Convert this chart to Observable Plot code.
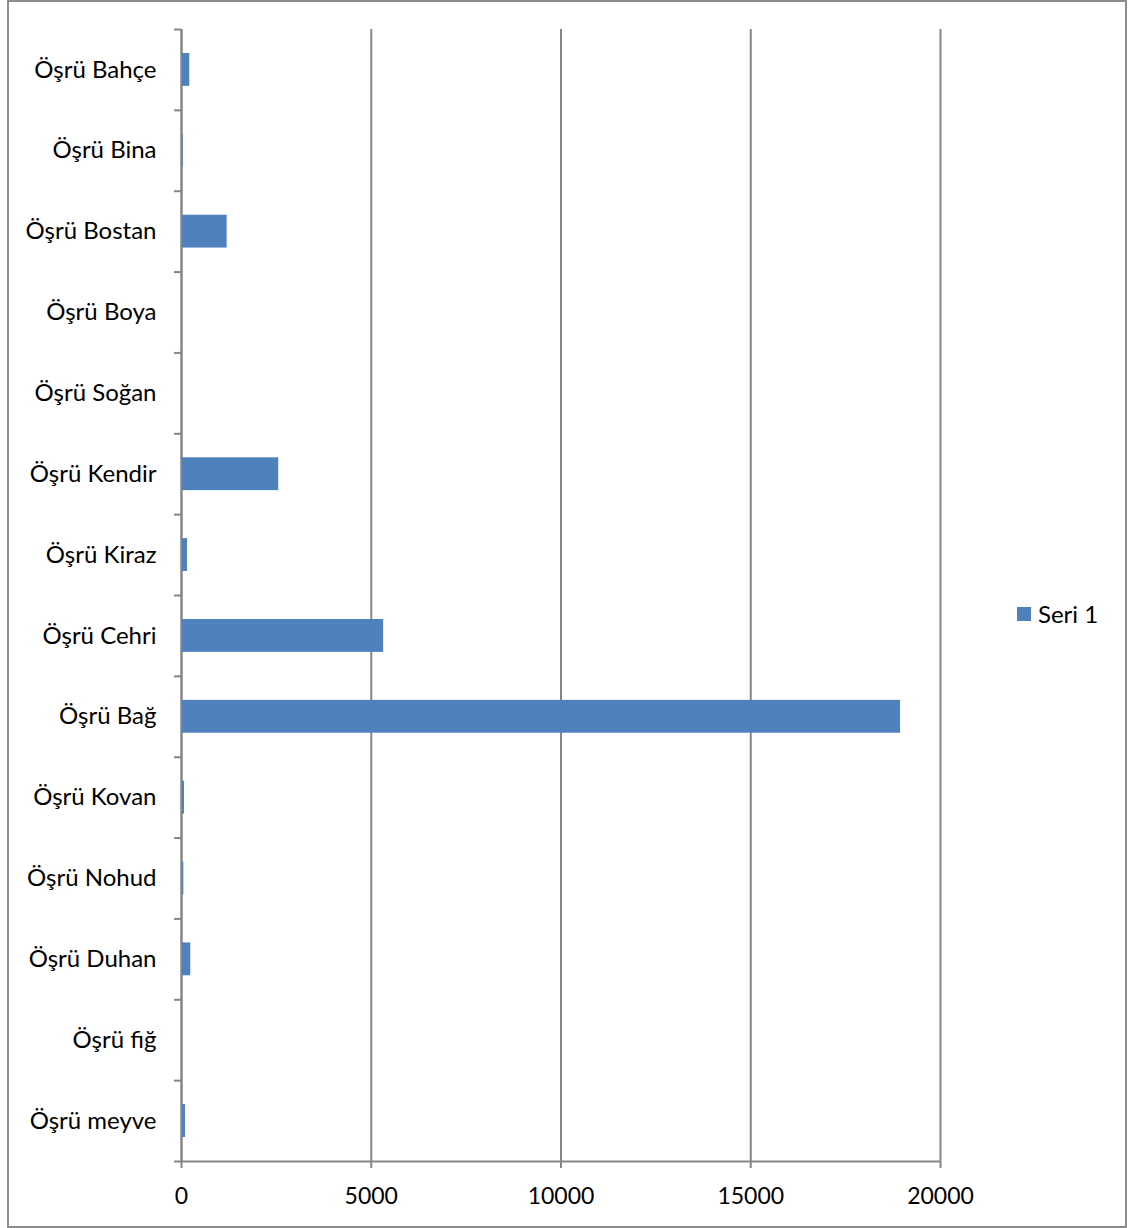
<!DOCTYPE html>
<html>
<head>
<meta charset="utf-8">
<script src="https://cdn.jsdelivr.net/npm/d3@7"></script>
<script src="https://cdn.jsdelivr.net/npm/@observablehq/plot@0.6"></script>
<style>
  html, body { margin: 0; padding: 0; background: #fff; }
  #wrap { position: relative; width: 1128px; height: 1228px; font-family: Lato, "Noto Sans", sans-serif; }
  #frame { position: absolute; left: 7px; top: 0px; width: 1116px; height: 1224px; border: 2px solid #8c8c8c; box-sizing: content-box; pointer-events: none; }
  #legend { position: absolute; left: 1017px; top: 599px; display: flex; align-items: center; font-size: 24px; color: #000; }
  #legend .sw { width: 14px; height: 14px; background: #4F81BD; margin-right: 7px; }
  #chart { position: absolute; left: 0; top: 0; }
</style>
</head>
<body>
<div id="wrap">
  <div id="chart"></div>
  <div id="frame"></div>
  <div id="legend"><div class="sw"></div><span id="legendLabel"></span></div>
</div>
<script>
const categories = [
  "Öşrü Bahçe", "Öşrü Bina", "Öşrü Bostan", "Öşrü Boya", "Öşrü Soğan",
  "Öşrü Kendir", "Öşrü Kiraz", "Öşrü Cehri", "Öşrü Bağ", "Öşrü Kovan",
  "Öşrü Nohud", "Öşrü Duhan", "Öşrü fiğ", "Öşrü meyve"
];
const values = [218, 45, 1203, 0, 0, 2562, 158, 5326, 18947, 79, 61, 245, 0, 105];
const seriesName = "Seri 1";
const xTicks = [0, 5000, 10000, 15000, 20000];

const data = categories.map((c, i) => ({category: c, value: values[i]}));

const W = 1128, H = 1228;
const mL = 181, mR = 188, mT = 29, mB = 67;
const step = (H - mT - mB) / categories.length;
const grey = "#868686";
const pxPerUnit = (W - mL - mR) / 20000;
const tickLenUnits = 7 / pxPerUnit;

const chart = Plot.plot({
  width: W,
  height: H,
  marginLeft: mL,
  marginRight: mR,
  marginTop: mT,
  marginBottom: mB,
  style: {fontFamily: "Lato, 'Noto Sans', sans-serif", fontSize: "24px", color: "#000", background: "transparent", overflow: "visible"},
  x: {domain: [0, 20000], ticks: xTicks},
  y: {domain: categories, padding: 0, round: false},
  marks: [
    Plot.gridX(xTicks.slice(1), {stroke: grey, strokeOpacity: 1, strokeWidth: 2}),
    Plot.ruleX([0], {stroke: grey, strokeWidth: 2.5}),
    Plot.barX(data, {y: "category", x: "value", fill: "#4F81BD", insetTop: 24, insetBottom: 24, insetLeft: 1}),
    Plot.ruleY(categories, {y: d => d, x1: -tickLenUnits, x2: 0, dy: step / 2, stroke: grey, strokeWidth: 2}),
    Plot.ruleY(categories.slice(0, 1), {y: d => d, x1: -tickLenUnits, x2: 0, dy: -step / 2, stroke: grey, strokeWidth: 2}),
    Plot.ruleY(categories.slice(-1), {y: d => d, x1: 0, x2: 20000, dy: step / 2, stroke: grey, strokeWidth: 2}),
    Plot.axisX({ticks: xTicks, tickSize: 7, tickPadding: 19, stroke: grey, strokeWidth: 2, tickFormat: d => String(d), fill: "#000", fontSize: 23, label: null}),
    Plot.axisY({tickSize: 0, tickPadding: 25, fill: "#000", label: null})
  ]
});
document.getElementById("chart").appendChild(chart);
document.getElementById("legendLabel").textContent = seriesName;
</script>
</body>
</html>
